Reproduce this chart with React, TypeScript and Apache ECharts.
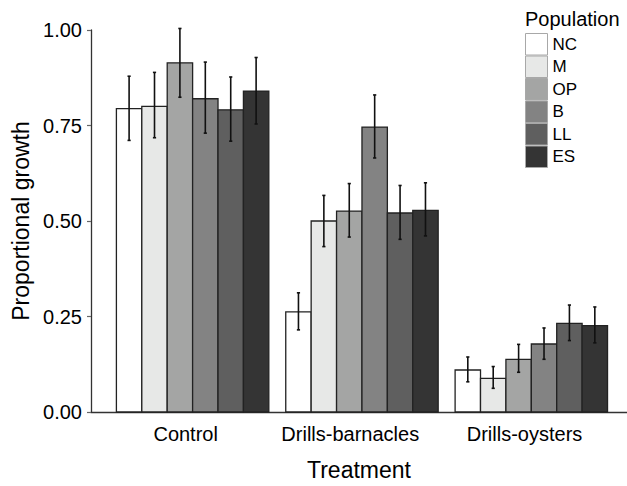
import React, { useEffect, useRef } from "react";
import * as echarts from "echarts";

const treatments = ["Control", "Drills-barnacles", "Drills-oysters"];
// where each treatment's label sits on the axis (as drawn in the reference)
const treatmentLabelPos = [0.959, 1.931, 2.96];
const populations = ["NC", "M", "OP", "B", "LL", "ES"];
const colors = ["#ffffff", "#e7e8e7", "#a4a5a4", "#838383", "#5f5f5f", "#343434"];

// means per population, in treatment order
const meanNC = [0.794, 0.262, 0.11];
const meanM = [0.8, 0.5, 0.088];
const meanOP = [0.914, 0.526, 0.138];
const meanB = [0.82, 0.746, 0.178];
const meanLL = [0.791, 0.521, 0.232];
const meanES = [0.84, 0.528, 0.226];

const lowNC = [0.711, 0.215, 0.079];
const lowM = [0.718, 0.433, 0.062];
const lowOP = [0.824, 0.458, 0.104];
const lowB = [0.73, 0.665, 0.138];
const lowLL = [0.709, 0.452, 0.187];
const lowES = [0.754, 0.461, 0.181];

const highNC = [0.879, 0.312, 0.144];
const highM = [0.889, 0.567, 0.119];
const highOP = [1.004, 0.598, 0.177];
const highB = [0.916, 0.83, 0.22];
const highLL = [0.877, 0.593, 0.28];
const highES = [0.928, 0.6, 0.275];

const means = [meanNC, meanM, meanOP, meanB, meanLL, meanES];
const lows = [lowNC, lowM, lowOP, lowB, lowLL, lowES];
const highs = [highNC, highM, highOP, highB, highLL, highES];

const yTicks = [0, 0.25, 0.5, 0.75, 1.0];

const FONT = "'Liberation Sans', Arial, Helvetica, sans-serif";
const BAR_W = 0.15;
const GROUP_W = 0.9;

export default function App() {
  const ref = useRef<HTMLDivElement>(null);
  useEffect(() => {
    if (!ref.current) return;
    const chart = echarts.init(ref.current, undefined, { renderer: "svg" });
    const series = populations.map((p, si) => ({
      type: "custom",
      name: p,
      itemStyle: { color: colors[si], borderColor: "#a8a8a8", borderWidth: 1 },
      encode: { x: 0, y: 1 },
      data: treatments.map((t, ti) => [ti + 1, means[si][ti], lows[si][ti], highs[si][ti]]),
      renderItem: (params: any, api: any) => {
        const cat = api.value(0);
        const v = api.value(1);
        const lo = api.value(2);
        const hi = api.value(3);
        const xc = cat - GROUP_W / 2 + BAR_W * (params.seriesIndex + 0.5);
        const top = api.coord([xc, v]);
        const base = api.coord([xc, 0]);
        const w = api.size([BAR_W, 0])[0];
        const pLo = api.coord([xc, lo]);
        const pHi = api.coord([xc, hi]);
        const cap = 1.6;
        return {
          type: "group",
          children: [
            {
              type: "rect",
              shape: { x: top[0] - w / 2, y: top[1], width: w, height: base[1] - top[1] },
              style: { fill: colors[params.seriesIndex], stroke: "#222", lineWidth: 1.3 },
            },
            {
              type: "line",
              z2: 10,
              shape: { x1: pLo[0], y1: pLo[1], x2: pHi[0], y2: pHi[1] },
              style: { stroke: "#111", lineWidth: 1.6 },
            },
            {
              type: "line",
              z2: 10,
              shape: { x1: pHi[0] - cap, y1: pHi[1], x2: pHi[0] + cap, y2: pHi[1] },
              style: { stroke: "#111", lineWidth: 1.6 },
            },
            {
              type: "line",
              z2: 10,
              shape: { x1: pLo[0] - cap, y1: pLo[1], x2: pLo[0] + cap, y2: pLo[1] },
              style: { stroke: "#111", lineWidth: 1.6 },
            },
          ],
        };
      },
    }));
    chart.setOption({
      animation: false,
      backgroundColor: "#ffffff",
      textStyle: { fontFamily: FONT },
      title: {
        text: "Population",
        left: 525,
        top: 9,
        padding: 0,
        textStyle: { fontSize: 20, fontWeight: "normal", color: "#000", fontFamily: FONT },
      },
      legend: {
        orient: "vertical",
        left: 525,
        top: 33,
        padding: 0,
        itemWidth: 22,
        itemHeight: 21.5,
        itemGap: 0,
        icon: "rect",
        selectedMode: false,
        itemStyle: { borderColor: "#a8a8a8", borderWidth: 1 },
        textStyle: { fontSize: 17, color: "#000", fontFamily: FONT },
        data: populations.map((p, i) => ({
          name: p,
          icon: "rect",
          itemStyle: { color: colors[i], borderColor: "#a8a8a8", borderWidth: 1 },
        })),
      },
      grid: { left: 91, right: 0, top: 30, bottom: 73 },
      xAxis: {
        type: "value",
        min: 0.4,
        max: 3.565,
        name: "Treatment",
        nameLocation: "middle",
        nameGap: 46,
        nameTextStyle: { fontSize: 23, color: "#000", fontFamily: FONT },
        splitLine: { show: false },
        axisLine: { show: true, lineStyle: { color: "#333", width: 1.3 } },
        axisTick: { show: false },
        axisLabel: {
          customValues: treatmentLabelPos,
          formatter: (v: number) => treatments[Math.round(v) - 1] ?? "",
          fontSize: 20,
          color: "#000",
          margin: 12,
          fontFamily: FONT,
        },
      },
      yAxis: {
        type: "value",
        min: 0,
        max: 1,
        interval: 0.25,
        name: "Proportional growth",
        nameLocation: "middle",
        nameGap: 59,
        nameTextStyle: { fontSize: 23, color: "#000", fontFamily: FONT },
        splitLine: { show: false },
        axisLine: { show: true, lineStyle: { color: "#333", width: 1.3 } },
        axisTick: { show: true, length: 4, lineStyle: { color: "#666", width: 1.2 } },
        axisLabel: {
          customValues: yTicks,
          formatter: (v: number) => v.toFixed(2),
          fontSize: 20,
          color: "#000",
          margin: 9,
          fontFamily: FONT,
        },
      },
      series,
    } as any);
    return () => chart.dispose();
  }, []);
  return (
    <div
      ref={ref}
      style={{ position: "fixed", left: 0, top: 0, width: 627, height: 486, background: "#fff" }}
    />
  );
}
